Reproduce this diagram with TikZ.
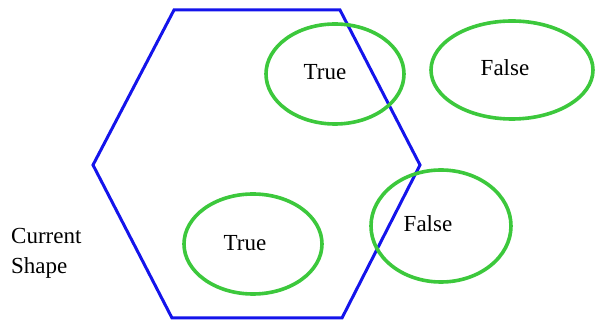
\documentclass[tikz,border=0pt]{standalone}
\usepackage{fontspec}
\setmainfont{Liberation Serif}
\usetikzlibrary{shapes.geometric}
\definecolor{hexblue}{RGB}{20,20,235}
\definecolor{ovgreen}{RGB}{60,200,60}
\begin{document}
\begin{tikzpicture}[x=1pt,y=-1pt,
  oval/.style={draw=ovgreen,line width=3.6pt,ellipse,inner sep=0pt},
  lbl/.style={font=\fontsize{23}{30}\selectfont,inner sep=0pt},
  hexline/.style={draw=hexblue,line width=3pt,line join=miter}]
\useasboundingbox (0,0) rectangle (595,320);
% hexagon
\coordinate (h1) at (174,10);
\coordinate (h2) at (340,10);
\coordinate (h3) at (420,165);
\coordinate (h4) at (342,318);
\coordinate (h5) at (172,318);
\coordinate (h6) at (93,165);
\draw[hexline] (h1) -- (h2) -- (h3) -- (h4) -- (h5) -- (h6) -- cycle;
% ellipses
\node[oval,minimum width=138pt,minimum height=100pt] (e1) at (335,74) {};
\node[oval,minimum width=162pt,minimum height=98pt] (e2) at (512,70) {};
\node[oval,minimum width=140pt,minimum height=112pt] (e3) at (441,226) {};
\node[oval,minimum width=138pt,minimum height=100pt] (e4) at (253,244) {};
% labels
\node[lbl] (t1) at (325,72) {True};
\node[lbl] (t2) at (505,68) {False};
\node[lbl] (t3) at (428,224) {False};
\node[lbl] (t4) at (245,243) {True};
\node[lbl,anchor=west,align=left] (cs) at (11,253) {Current\\Shape};
\end{tikzpicture}
\end{document}
